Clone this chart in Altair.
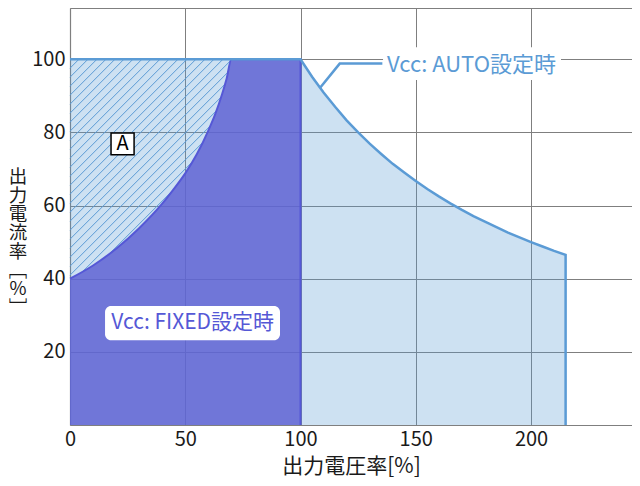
import numpy as np
import pandas as pd
import altair as alt

# ---- data ----
auto_x = [0, 100, 105, 110, 115, 120, 125, 130, 135, 140, 145, 150, 155, 160, 165, 170,
          175, 180, 185, 190, 195, 200, 205, 210, 215]
auto_y = [100, 100, 95.2, 90.9, 87.0, 83.3, 80.0, 76.9, 74.1, 71.4, 69.0, 66.7, 64.5, 62.5,
          60.6, 58.8, 57.1, 55.6, 54.1, 52.6, 51.3, 50.0, 48.8, 47.6, 46.5]
fixed_x = [0, 10, 20, 30, 40, 45, 50, 55, 60, 63, 66, 68, 70, 100]
fixed_y = [40, 43.6, 48.2, 53.8, 60.5, 64.5, 68.8, 74, 80.5, 85, 90.5, 94.8, 100, 100]
x_ticks = [0, 50, 100, 150, 200]
y_ticks = [20, 40, 60, 80, 100]

FONT = "Noto Sans CJK JP"
BLUE = "#5b9bd5"
PURPLE_FILL = "#5f63d3"
PURPLE_LINE = "#5558d6"
GRID = "#7f7f7f"

W, H = 562, 417
XMAX, YMAX = 243.8, 114

xs = alt.Scale(domain=[0, XMAX], nice=False, zero=False)
ys = alt.Scale(domain=[0, YMAX], nice=False, zero=False)

xaxis = alt.Axis(values=x_ticks, title="出力電圧率[%]", labelFontSize=20, titleFontSize=21,
                 labelFont=FONT, titleFont=FONT, labelColor="#1a1a1a", titleColor="#1a1a1a",
                 titleFontWeight="normal", grid=True, gridColor=GRID, gridWidth=1,
                 domainColor=GRID, domainWidth=1.2, ticks=False, tickSize=0,
                 labelFlush=False, labelPadding=4, titlePadding=6)
yaxis = alt.Axis(values=y_ticks + [YMAX], title=None, labelFontSize=20, labelFont=FONT,
                 labelColor="#1a1a1a", grid=True, gridColor=GRID, gridWidth=1,
                 domainColor=GRID, domainWidth=1.2, ticks=False, tickSize=0,
                 labelFlush=False, labelPadding=5,
                 labelExpr="datum.value > 100 ? '' : datum.label")


def X(f="x"):
    return alt.X(f + ":Q", scale=xs, axis=xaxis)


def Y(f="y"):
    return alt.Y(f + ":Q", scale=ys, axis=yaxis)


auto_df = pd.DataFrame({"x": auto_x, "y": auto_y})
auto_line = pd.DataFrame({"x": auto_x + [auto_x[-1]], "y": auto_y + [0]})
auto_line["o"] = range(len(auto_line))
fixed_df = pd.DataFrame({"x": fixed_x, "y": fixed_y})
fixed_line = pd.DataFrame({"x": fixed_x + [fixed_x[-1]], "y": fixed_y + [0]})
fixed_line["o"] = range(len(fixed_line))

# hatching (45 degrees on screen) clipped to region above the FIXED curve
m = (W / XMAX) / (H / YMAX)
step = 9 / (H / YMAX)
grid_x = np.linspace(0, 100, 4001)
curve = np.interp(grid_x, fixed_x, fixed_y)
segs = []
for c in np.arange(40 - m * 100, 100, step):
    yy = c + m * grid_x
    mask = (yy <= 100) & (yy >= curve)
    idx = np.where(mask)[0]
    if len(idx) < 2:
        continue
    breaks = np.where(np.diff(idx) > 1)[0]
    starts = np.concatenate([[idx[0]], idx[breaks + 1]])
    ends = np.concatenate([idx[breaks], [idx[-1]]])
    for s, e in zip(starts, ends):
        if e > s:
            segs.append({"x": grid_x[s], "y": yy[s], "x2": grid_x[e], "y2": yy[e]})
hatch_df = pd.DataFrame(segs)

l_auto_area = alt.Chart(auto_df).mark_area(color=BLUE, opacity=0.3).encode(x=X(), y=Y())
l_hatch = alt.Chart(hatch_df).mark_rule(color=BLUE, strokeWidth=1).encode(
    x=X(), y=Y(), x2="x2:Q", y2="y2:Q")
l_fixed_area = alt.Chart(fixed_df).mark_area(color=PURPLE_FILL, opacity=0.85,
                                             interpolate="monotone").encode(x=X(), y=Y())
l_fixed_line = alt.Chart(fixed_line).mark_line(color=PURPLE_LINE, strokeWidth=2,
                                               interpolate="monotone").encode(
    x=X(), y=Y(), order="o:Q")
l_auto_line = alt.Chart(auto_line).mark_line(color=BLUE, strokeWidth=2.5).encode(
    x=X(), y=Y(), order="o:Q")

# annotations
leader_df = pd.DataFrame({"x": [108.5, 117, 135.5], "y": [92.2, 98.8, 98.8], "o": [0, 1, 2]})
l_leader = alt.Chart(leader_df).mark_line(color=BLUE, strokeWidth=2.5).encode(
    x=X(), y=Y(), order="o:Q")

auto_box = pd.DataFrame({"x": [135.8], "x2": [213], "y": [94.3], "y2": [103.3]})
l_auto_box = alt.Chart(auto_box).mark_rect(color="white").encode(x=X(), x2="x2:Q", y=Y(), y2="y2:Q")
auto_lab = pd.DataFrame({"x": [137.5], "y": [98.4], "t": ["Vcc: AUTO設定時"]})
l_auto_lab = alt.Chart(auto_lab).mark_text(font=FONT, fontSize=22, color=BLUE, align="left",
                                           baseline="middle").encode(x=X(), y=Y(), text="t:N")

fixed_box = pd.DataFrame({"x": [15.2], "x2": [91.1], "y": [23.2], "y2": [32.5]})
l_fixed_box = alt.Chart(fixed_box).mark_rect(color="white", cornerRadius=6).encode(
    x=X(), x2="x2:Q", y=Y(), y2="y2:Q")
fixed_lab = pd.DataFrame({"x": [53.2], "y": [27.8], "t": ["Vcc: FIXED設定時"]})
l_fixed_lab = alt.Chart(fixed_lab).mark_text(font=FONT, fontSize=21, color=PURPLE_LINE,
                                             align="center", baseline="middle").encode(
    x=X(), y=Y(), text="t:N")

a_box = pd.DataFrame({"x": [17.8], "x2": [27.8], "y": [73.9], "y2": [79.8]})
l_a_box = alt.Chart(a_box).mark_rect(fill="white", stroke="black", strokeWidth=1.5).encode(
    x=X(), x2="x2:Q", y=Y(), y2="y2:Q")
a_lab = pd.DataFrame({"x": [22.8], "y": [76.8], "t": ["A"]})
l_a_lab = alt.Chart(a_lab).mark_text(font=FONT, fontSize=20, color="black", align="center",
                                     baseline="middle").encode(x=X(), y=Y(), text="t:N")

ytitle = ["出", "力", "電", "流", "率", "﹇", "％", "﹈"]
l_ytitle = alt.Chart(alt.Data(values=[{"a": 1}])).mark_text(
    text=ytitle, font=FONT, fontSize=18.5, lineHeight=18.7, color="#1a1a1a",
    align="center", baseline="top").encode(x=alt.value(-52), y=alt.value(160))

chart = alt.layer(
    l_auto_area, l_hatch, l_fixed_area, l_fixed_line, l_auto_line, l_leader,
    l_auto_box, l_auto_lab, l_fixed_box, l_fixed_lab, l_a_box, l_a_lab, l_ytitle
).properties(
    width=W, height=H,
    autosize=alt.AutoSizeParams(type="none"),
    padding={"left": 62, "top": 0, "right": 0, "bottom": 60},
).configure_view(stroke=None)

chart.save("out.html", embed_options={"renderer": "svg", "actions": False})
